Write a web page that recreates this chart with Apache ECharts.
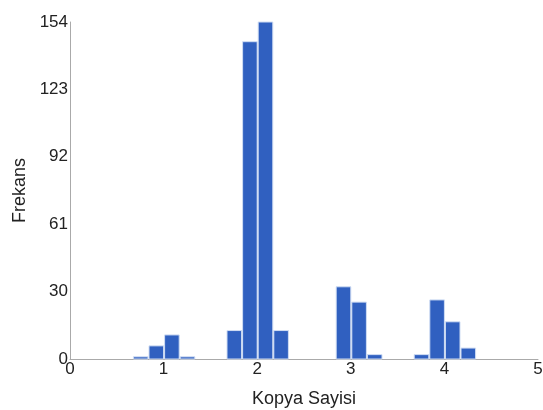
<!DOCTYPE html>
<html>
<head>
<meta charset="utf-8">
<script src="https://cdn.jsdelivr.net/npm/echarts@6/dist/echarts.min.js"></script>
<style>
  html, body { margin: 0; padding: 0; background: #fff; }
  #chart { width: 543px; height: 410px; }
</style>
</head>
<body>
<div id="chart"></div>
<script>
// Histogram of copy numbers: bin edges (in copies) and the frequency in each bin
const binLeft  = [4/6, 5/6, 1, 7/6,   10/6, 11/6, 2, 13/6,   17/6, 3, 19/6,   22/6, 23/6, 4, 25/6];
const binRight = [5/6, 1, 7/6, 8/6,   11/6, 2, 13/6, 14/6,   3, 19/6, 20/6,   23/6, 4, 25/6, 26/6];
const counts   = [1, 6, 11, 1,        13, 145, 154, 13,      33, 26, 2,       2, 27, 17, 5];

// Axis tick labels
const xTickLabels = ['0', '1', '2', '3', '4', '5'];
const yTickLabels = ['0', '30', '61', '92', '123', '154'];
const yMax = 154;
const yStep = yMax / 5;

const data = binLeft.map((l, i) => [l, binRight[i], counts[i]]);

const font = "'Liberation Sans', Arial, Helvetica, sans-serif";
const chart = echarts.init(document.getElementById('chart'), null, { renderer: 'canvas' });

chart.setOption({
  animation: false,
  backgroundColor: '#ffffff',
  grid: { left: 70, right: 5, top: 22, bottom: 51, containLabel: false, outerBoundsMode: 'none' },
  xAxis: {
    type: 'value',
    min: 0,
    max: 5,
    interval: 1,
    name: 'Kopya Sayisi',
    nameLocation: 'middle',
    nameGap: 31,
    nameTextStyle: { fontFamily: font, fontSize: 18, color: '#222' },
    axisLine: { show: true, lineStyle: { color: '#aaaaaa', width: 1 } },
    axisTick: { show: false },
    splitLine: { show: false },
    axisLabel: {
      margin: 2,
      fontFamily: font,
      fontSize: 17,
      color: '#222',
      formatter: v => xTickLabels[Math.round(v)]
    }
  },
  yAxis: {
    type: 'value',
    min: 0,
    max: yMax,
    interval: yStep,
    name: 'Frekans',
    nameLocation: 'middle',
    nameGap: 41,
    nameTextStyle: { fontFamily: font, fontSize: 18, color: '#222' },
    axisLine: { show: true, lineStyle: { color: '#aaaaaa', width: 1 } },
    axisTick: { show: false },
    splitLine: { show: false },
    axisLabel: {
      margin: 2,
      fontFamily: font,
      fontSize: 17,
      color: '#222',
      formatter: v => yTickLabels[Math.round(v / yStep)]
    }
  },
  series: [{
    type: 'custom',
    data: data,
    encode: { x: [0, 1], y: 2 },
    renderItem: function (params, api) {
      const top = api.coord([api.value(0), api.value(2)]);
      const base = api.coord([api.value(1), 0]);
      return {
        type: 'rect',
        shape: { x: top[0] + 1, y: top[1], width: base[0] - top[0] - 1, height: base[1] - top[1] },
        style: { fill: '#3060c0', stroke: '#d0ddf3', lineWidth: 1 }
      };
    }
  }]
});
</script>
</body>
</html>
